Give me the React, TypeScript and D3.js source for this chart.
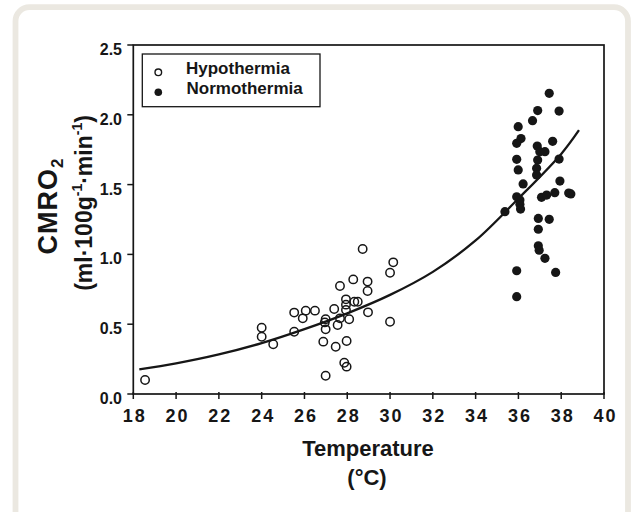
import React from "react";
import * as d3 from "d3";

// ---- data ----
const hypothermia: [number, number][] = [
  [18.55, 0.1], [24.0, 0.475], [24.0, 0.41], [24.54, 0.356], [25.52, 0.583], [25.52, 0.446],
  [25.92, 0.542], [26.06, 0.597], [26.49, 0.597], [26.88, 0.375], [26.99, 0.535], [26.95, 0.513],
  [26.99, 0.463], [26.99, 0.131], [27.39, 0.609], [27.46, 0.339], [27.55, 0.494], [27.66, 0.774],
  [27.66, 0.542], [27.94, 0.678], [27.94, 0.64], [27.94, 0.602], [27.97, 0.38], [27.86, 0.224],
  [27.97, 0.196], [28.09, 0.535], [28.28, 0.821], [28.33, 0.661], [28.49, 0.661], [28.72, 1.039],
  [28.95, 0.805], [28.95, 0.738], [28.97, 0.585], [30.0, 0.869], [30.15, 0.943], [30.0, 0.518],
];

const normothermia: [number, number][] = [
  [35.37, 1.306], [35.99, 1.915], [36.12, 1.83], [35.92, 1.796], [35.92, 1.681], [35.99, 1.605],
  [36.22, 1.505], [35.92, 1.413], [36.07, 1.39], [36.07, 1.36], [36.1, 1.325], [35.92, 0.883],
  [35.92, 0.697], [36.66, 1.958], [36.9, 2.03], [37.44, 2.154], [37.9, 2.027], [37.6, 1.81],
  [36.88, 1.776], [37.0, 1.736], [37.24, 1.736], [36.9, 1.676], [36.85, 1.617], [36.85, 1.569],
  [37.9, 1.683], [37.94, 1.525], [37.08, 1.409], [37.32, 1.425], [37.7, 1.442], [38.45, 1.433],
  [38.35, 1.44], [36.93, 1.258], [37.44, 1.251], [36.93, 1.18], [36.93, 1.062], [36.97, 1.03],
  [37.24, 0.972], [37.74, 0.871],
];

const fitCurve: [number, number][] = [
  [18.28, 0.177], [20, 0.22], [22, 0.284], [24, 0.365], [26, 0.465], [28, 0.578], [30, 0.71],
  [32, 0.875], [34, 1.1], [36, 1.4], [38, 1.72], [38.83, 1.89],
];

const xTicks = [18, 20, 22, 24, 26, 28, 30, 32, 34, 36, 38, 40];
const yTicks = [0, 0.5, 1.0, 1.5, 2.0, 2.5];
const legendLabels = ["Hypothermia", "Normothermia"];

const FONT = "'Liberation Sans', Arial, Helvetica, sans-serif";
const INK = "#161616";

export default function App() {
  const x = d3.scaleLinear().domain([18, 40]).range([133.3, 604]);
  const y = d3.scaleLinear().domain([0, 2.5]).range([394, 45]);
  const line = d3
    .line<[number, number]>()
    .x((d) => x(d[0]))
    .y((d) => y(d[1]))
    .curve(d3.curveCatmullRom.alpha(0.5));

  return (
    <svg
      width={632}
      height={512}
      style={{ position: "absolute", left: 0, top: 0, background: "#fff" }}
      fontFamily={FONT}
    >
      {/* card border */}
      <rect x={15.5} y={7.2} width={612.5} height={540} rx={14} ry={14} fill="#fff" stroke="#ebe8e1" strokeWidth={5.8} />

      {/* plot frame */}
      <rect x={x(18)} y={y(2.5)} width={x(40) - x(18)} height={y(0) - y(2.5)} fill="none" stroke={INK} strokeWidth={1.7} />

      {/* x ticks */}
      {xTicks.map((t) => (
        <g key={"xt" + t}>
          <line x1={x(t)} x2={x(t)} y1={y(0) - 2} y2={y(0) + 5} stroke={INK} strokeWidth={1.5} />
          <text x={x(t) + 1.5} y={422} textAnchor="middle" fontSize={18} fontWeight="bold" letterSpacing={2} fill={INK}>
            {String(t)}
          </text>
        </g>
      ))}

      {/* y ticks */}
      {yTicks.map((v) => (
        <g key={"yt" + v}>
          <line x1={x(18) - 6} x2={x(18)} y1={y(v)} y2={y(v)} stroke={INK} strokeWidth={1.5} />
          <text x={122} y={y(v) + 10} textAnchor="end" fontSize={16} fontWeight="bold" fill={INK}>
            {v.toFixed(1)}
          </text>
        </g>
      ))}

      {/* fit curve */}
      <path d={line(fitCurve) || ""} fill="none" stroke={INK} strokeWidth={2.3} />

      {/* points */}
      {hypothermia.map((d, i) => (
        <circle key={"h" + i} cx={x(d[0])} cy={y(d[1])} r={4.2} fill="none" stroke={INK} strokeWidth={1.5} />
      ))}
      {normothermia.map((d, i) => (
        <circle key={"n" + i} cx={x(d[0])} cy={y(d[1])} r={4.6} fill={INK} />
      ))}

      {/* legend */}
      <rect x={142.3} y={54} width={177.7} height={52.7} fill="#fff" stroke={INK} strokeWidth={1.3} />
      <circle cx={158.3} cy={72.3} r={3.3} fill="none" stroke={INK} strokeWidth={1.4} />
      <circle cx={158.3} cy={92.3} r={3.8} fill={INK} />
      <text x={186} y={74} fontSize={17} fontWeight="bold" fill={INK}>{legendLabels[0]}</text>
      <text x={186.5} y={94} fontSize={17} fontWeight="bold" fill={INK}>{legendLabels[1]}</text>

      {/* axis titles */}
      <text x={368} y={456} textAnchor="middle" fontSize={22} fontWeight="bold" fill={INK}>Temperature</text>
      <text x={367} y={485} textAnchor="middle" fontSize={22} fontWeight="bold" fill={INK}>(°C)</text>

      <g transform="translate(57,206) rotate(-90)">
        <text x={0} y={0} textAnchor="middle" fontSize={27} fontWeight="bold" letterSpacing={1} fill={INK}>
          CMRO<tspan fontSize={17} dy={6}>2</tspan>
        </text>
      </g>
      <g transform="translate(92,203) rotate(-90)">
        <text x={0} y={0} textAnchor="middle" fontSize={23} fontWeight="bold" fill={INK}>
          (ml·100g<tspan fontSize={14} dy={-10}>-1</tspan><tspan dy={10}>·min</tspan><tspan fontSize={14} dy={-10}>-1</tspan><tspan dy={10}>)</tspan>
        </text>
      </g>
    </svg>
  );
}
